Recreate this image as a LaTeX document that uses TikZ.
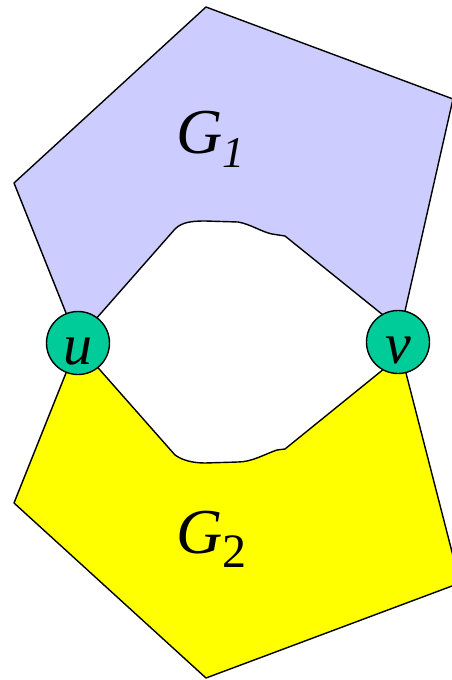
\documentclass[tikz,border=0pt]{standalone}
\usepackage{fontspec}
\setmainfont{Liberation Serif}
\usetikzlibrary{backgrounds}
\definecolor{gonefill}{RGB}{204,204,255}
\definecolor{gtwofill}{RGB}{255,255,0}
\definecolor{cutvert}{RGB}{0,204,153}
\newcommand{\lowsub}[2]{\raisebox{-14pt}{\fontsize{#1}{#1}\selectfont #2}}

\begin{document}
\begin{tikzpicture}[x=1pt,y=-1pt,line width=1.4pt,line join=round,
   vtx/.style={circle,draw,fill=cutvert,minimum size=63pt,inner sep=0pt,
               text height=42pt,text depth=0pt,
               font=\fontsize{58}{58}\selectfont\itshape},
   piece/.style={draw,line width=1.4pt,line join=round},
   glbl/.style={inner sep=0pt,anchor=base west,font=\fontsize{64}{64}\selectfont}]
  \useasboundingbox (0,0) rectangle (452,680);
  \node[vtx] (u) at (78,343) {u};
  \node[vtx] (v) at (398,342) {v};
  \node[glbl] (gone) at (176,153) {\textit{G}\lowsub{44}{\textit{1}}};
  \node[glbl] (gtwo) at (176,553) {\textit{G}\lowsub{48}{2}};
  % the two pieces, behind the cut vertices
  \begin{scope}[on background layer]
    \path[piece,fill=gonefill] (u.center) -- (14,183) -- (206,7) -- (453,99)
      -- (v.center) -- (v.120) -- (285,236) -- (272,234)
      .. controls (262,232) and (250,224) .. (238,222) -- (205,221)
      .. controls (192,221) and (182,222) .. (175,229) -- (u.53) -- cycle;
    \path[piece,fill=gtwofill] (u.center) -- (14,503) -- (206,678) -- (460,583)
      -- (v.center) -- (v.241) -- (285,449) -- (277,450)
      .. controls (265,454) and (252,462) .. (238,462) -- (205,463)
      .. controls (192,463) and (182,460) .. (175,455) -- (u.-51) -- cycle;
  \end{scope}
\end{tikzpicture}
\end{document}
